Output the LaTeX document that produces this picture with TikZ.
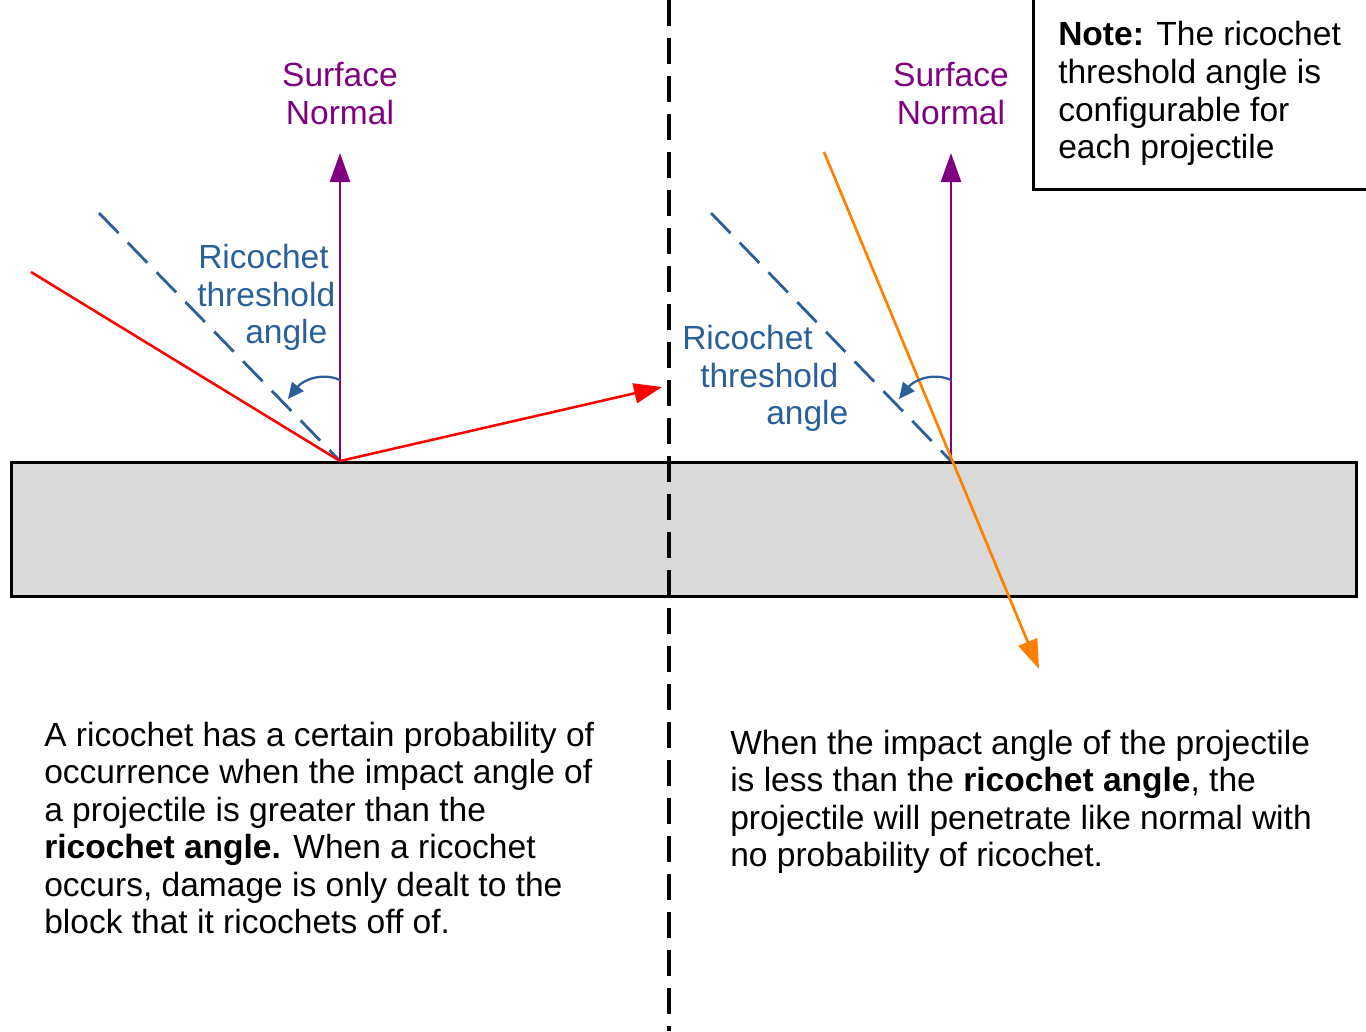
\documentclass[tikz,border=0pt]{standalone}
\usepackage{fontspec}
\setmainfont{Liberation Sans}
\usetikzlibrary{arrows.meta}
\definecolor{normalpurple}{HTML}{800080}
\definecolor{threshblue}{HTML}{2A6099}
\definecolor{rayorange}{HTML}{FF8000}
\definecolor{blockgray}{HTML}{D9D9D9}
\tikzset{
  txt/.style={inner sep=0pt, anchor=base west, font=\fontsize{25.15}{28}\selectfont},
  ctxt/.style={inner sep=0pt, anchor=base, font=\fontsize{25.15}{28}\selectfont},
  normalarrow/.style={draw=normalpurple, line width=1.9pt, -{Triangle[length=21.75pt,width=15pt]}, color=normalpurple},
  threshline/.style={draw=threshblue, line width=2.1pt, dash pattern=on 21pt off 10pt},
  threshbend/.style={draw=threshblue, line width=1.7pt, -{Triangle[length=12pt,width=11pt]}, color=threshblue},
  redray/.style={draw=red, line width=1.9pt},
  orangeray/.style={draw=rayorange, line width=2pt, -{Triangle[length=22pt,width=15pt]}, color=rayorange},
  divider/.style={draw=black, line width=2.6pt, dash pattern=on 19.5pt off 9pt},
}
\begin{document}
\begin{tikzpicture}[x=0.75pt,y=-0.75pt]
\useasboundingbox (0,0) rectangle (1366,1031);
% block
\node[draw=black, line width=1.9pt, fill=blockgray, minimum width=1345*0.75pt, minimum height=134*0.75pt, inner sep=0pt, anchor=north west] (block) at (10,461) {};
% divider
\coordinate (divtop) at (669,0);
\coordinate (divbot) at (669,1031);
\draw[divider] (divtop) -- (divbot);
% note box
\node[draw=black, line width=1.9pt, fill=white, minimum width=340*0.75pt, minimum height=200*0.75pt, inner sep=0pt, anchor=south west] (notebox) at (1032,191) {};
% points
\coordinate (P1) at (340,461);
\coordinate (P2) at (951,461);
\coordinate (N1) at (340,153);
\coordinate (N2) at (951,153);
\coordinate (T1) at (99,213);
\coordinate (T2) at (711,213);
\coordinate (R0) at (31,272);
\coordinate (R2) at (662,387);
\coordinate (O0) at (824,152);
\coordinate (O2) at (1039,669);
\coordinate (A1s) at (340,380);
\coordinate (A1e) at (288,399);
\coordinate (A2s) at (951,380);
\coordinate (A2e) at (899,399);
% left scenario
\draw[threshline] (T1) -- (P1);
\draw[redray] (R0) -- (P1);
\draw[redray, -{Triangle[length=21pt,width=15pt]}, color=red] (P1) -- (R2);
\draw[normalarrow] (P1) -- (N1);
\draw[threshbend] (A1s) .. controls (322,372) and (303,380) .. (A1e);
% right scenario
\draw[threshline] (T2) -- (P2);
\draw[normalarrow] (P2) -- (N2);
\draw[orangeray] (O0) -- (O2);
\draw[threshbend] (A2s) .. controls (933,372) and (914,380) .. (A2e);
% labels
\node[ctxt, text=normalpurple] (sn1a) at (340,87) {Surface};
\node[ctxt, text=normalpurple] (sn1b) at (340,124) {Normal};
\node[ctxt, text=normalpurple] (sn2a) at (951,87) {Surface};
\node[ctxt, text=normalpurple] (sn2b) at (951,124) {Normal};
\node[txt, text=threshblue] (rt1a) at (198,268.5) {Ricochet};
\node[txt, text=threshblue] (rt1b) at (197,306.5) {threshold};
\node[txt, text=threshblue] (rt1c) at (245,343.5) {angle};
\node[txt, text=threshblue] (rt2a) at (682,349.5) {Ricochet};
\node[txt, text=threshblue] (rt2b) at (700,387) {threshold};
\node[txt, text=threshblue] (rt2c) at (766,424) {angle};
% note text
\node[txt] (n1) at (1058,46) {\textbf{Note:} The ricochet};
\node[txt] (n2) at (1058,83.5) {threshold angle is};
\node[txt] (n3) at (1058,121) {configurable for};
\node[txt] (n4) at (1058,158.5) {each projectile};
% bottom left text
\node[txt] (l1) at (44,746) {A ricochet has a certain probability of};
\node[txt] (l2) at (44,783.5) {occurrence when the impact angle of};
\node[txt] (l3) at (44,821) {a projectile is greater than the};
\node[txt] (l4) at (44,858.5) {\textbf{ricochet angle.} When a ricochet};
\node[txt] (l5) at (44,896) {occurs, damage is only dealt to the};
\node[txt] (l6) at (44,933.5) {block that it ricochets off of.};
% bottom right text
\node[txt] (r1) at (730,754) {When the impact angle of the projectile};
\node[txt] (r2) at (730,791.5) {is less than the \textbf{ricochet angle}, the};
\node[txt] (r3) at (730,829) {projectile will penetrate like normal with};
\node[txt] (r4) at (730,866.5) {no probability of ricochet.};
\end{tikzpicture}
\end{document}
